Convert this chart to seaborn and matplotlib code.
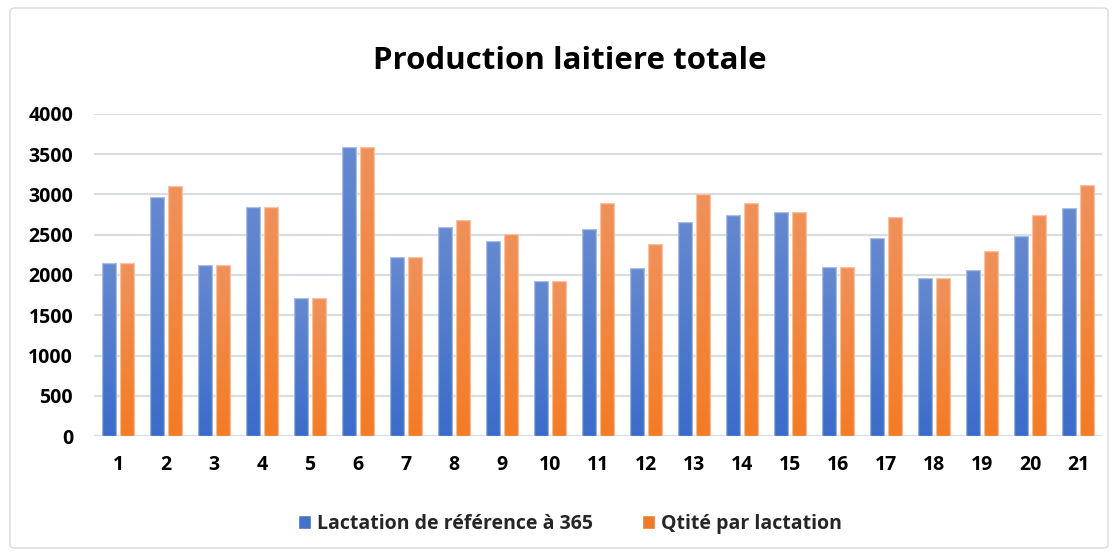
import numpy as np
import pandas as pd
import matplotlib
matplotlib.use("Agg")
import matplotlib.pyplot as plt
import seaborn as sns
from matplotlib.patches import FancyBboxPatch
from matplotlib.colors import LinearSegmentedColormap

categories = [str(i) for i in range(1, 22)]
lactation_ref = [2150, 2965, 2120, 2840, 1710, 3590, 2220, 2600, 2420, 1920, 2570,
                 2085, 2660, 2750, 2780, 2100, 2465, 1960, 2065, 2480, 2830]
qtite = [2150, 3100, 2120, 2840, 1710, 3590, 2220, 2680, 2510, 1920, 2900,
         2390, 3010, 2900, 2780, 2100, 2720, 1960, 2295, 2750, 3115]
series_names = ["Lactation de référence à 365", "Qtité par lactation"]
title = "Production laitiere totale"
yticks = [0, 500, 1000, 1500, 2000, 2500, 3000, 3500, 4000]

df = pd.DataFrame({
    "cat": categories * 2,
    "val": lactation_ref + qtite,
    "serie": [series_names[0]] * len(categories) + [series_names[1]] * len(categories),
})

sns.set_theme(style="white")
plt.rcParams["font.family"] = ["Open Sans", "DejaVu Sans"]

blue = "#4472C4"
orange = "#F07A2A"
palette = {series_names[0]: blue, series_names[1]: orange}

fig = plt.figure(figsize=(11.15, 5.54), dpi=100)
ax = fig.add_axes([94 / 1115, 1 - 436 / 554, (1102 - 94) / 1115, (436 - 114) / 554])

sns.barplot(data=df, x="cat", y="val", hue="serie", palette=palette, order=categories,
            hue_order=series_names, width=0.75, gap=0.18, ax=ax, saturation=1,
            errorbar=None, zorder=3)

ax.set_ylim(0, 4000)
ax.set_xlim(-0.5, len(categories) - 0.5)
ax.set_yticks(yticks)
ax.set_yticklabels([str(t) for t in yticks])
ax.yaxis.grid(True, color="#D9DCE3", linewidth=1.6, zorder=0)
ax.xaxis.grid(False)
for s in ax.spines.values():
    s.set_visible(False)
ax.tick_params(axis="both", length=0, labelsize=14, colors="#000000")
ax.tick_params(axis="y", pad=15)
ax.tick_params(axis="x", pad=14)
for lab in ax.get_xticklabels() + ax.get_yticklabels():
    lab.set_fontweight("bold")
ax.set_xlabel("")
ax.set_ylabel("")

# gradient fills clipped to bars
cmaps = {
    blue: LinearSegmentedColormap.from_list("b", ["#3C6CC9", "#6589D0"]),
    orange: LinearSegmentedColormap.from_list("o", ["#F47B24", "#F0915A"]),
}
grad = np.linspace(0, 1, 256).reshape(-1, 1)
xl, yl = ax.get_xlim(), ax.get_ylim()
bars = [p for p in ax.patches if p.get_height() > 0]
for p in bars:
    fc = matplotlib.colors.to_hex(p.get_facecolor())
    cm = cmaps[blue] if fc.lower() == blue.lower() else cmaps[orange]
    x0, y0 = p.get_x(), p.get_y()
    w, h = p.get_width(), p.get_height()
    im = ax.imshow(grad, extent=[x0, x0 + w, y0, y0 + h], origin="lower",
                   aspect="auto", cmap=cm, zorder=3.5)
    im.set_clip_path(p)
    p.set_edgecolor((1, 1, 1, 0.45))
    p.set_linewidth(1.0)
    p.set_zorder(4)
    p.set_facecolor("none")
ax.set_xlim(xl)
ax.set_ylim(yl)

leg = ax.get_legend()
handles, labels = ax.get_legend_handles_labels()
if leg is not None:
    leg.remove()
fig.legend(handles, labels, loc="center", bbox_to_anchor=(570 / 1115, 1 - 524 / 554), ncol=2,
           frameon=False, prop={"weight": "bold", "size": 14}, handlelength=0.7,
           handleheight=0.7, handletextpad=0.3, columnspacing=2.5)

fig.text(570 / 1115, 1 - 61 / 554, title, ha="center", va="center", fontsize=22.5,
         fontweight="bold", color="#000000")

border = FancyBboxPatch((10 / 1115, 6 / 554), 1098 / 1115, 540 / 554,
                        boxstyle="round,pad=0,rounding_size=0.005",
                        transform=fig.transFigure, fill=False,
                        edgecolor="#D9D9D9", linewidth=1.0)
fig.patches.append(border)

fig.savefig("out.png", dpi=100)
